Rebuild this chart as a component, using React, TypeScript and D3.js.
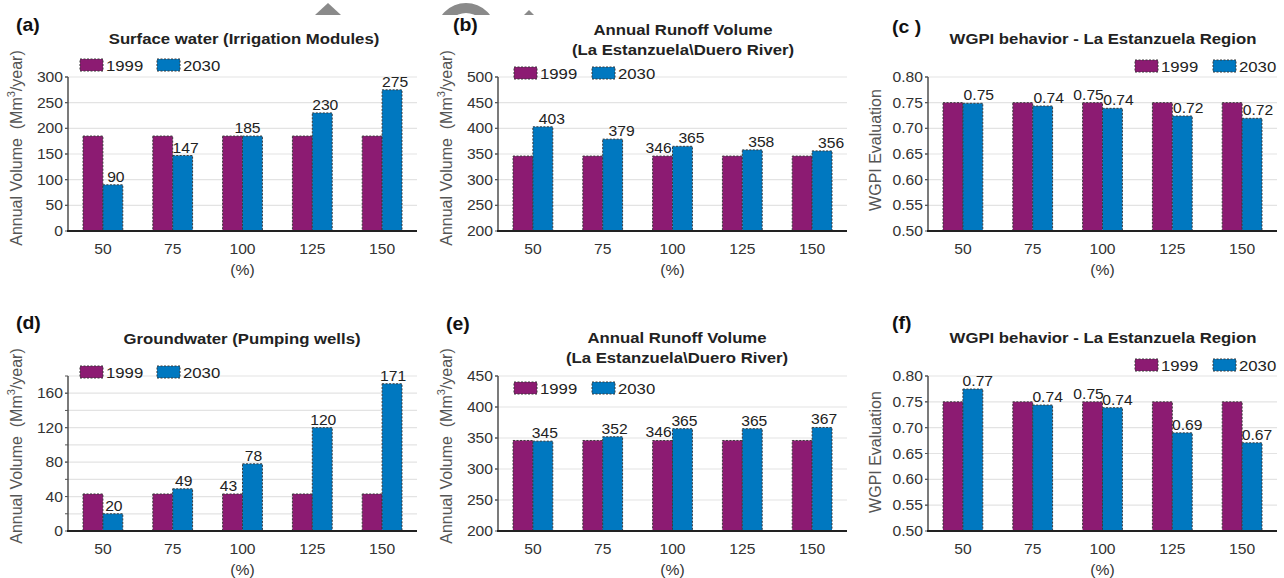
import React from "react";
import * as d3 from "d3";

const categories = ["50", "75", "100", "125", "150"];
const seriesNames = ["1999", "2030"];

const surface1999 = [185, 185, 185, 185, 185];
const surface2030 = [90, 147, 185, 230, 275];
const runoffB1999 = [346, 346, 346, 346, 346];
const runoffB2030 = [403, 379, 365, 358, 356];
const wgpiC1999 = [0.75, 0.75, 0.75, 0.75, 0.75];
const wgpiC2030 = [0.7488, 0.7435, 0.739, 0.724, 0.7195];
const ground1999 = [43, 43, 43, 43, 43];
const ground2030 = [20, 49, 78, 120, 171];
const runoffE1999 = [346, 346, 346, 346, 346];
const runoffE2030 = [345, 352, 365, 365, 367];
const wgpiF1999 = [0.75, 0.75, 0.75, 0.75, 0.75];
const wgpiF2030 = [0.7748, 0.7438, 0.7386, 0.69, 0.6707];

const ticksA = [0, 50, 100, 150, 200, 250, 300];
const ticksB = [200, 250, 300, 350, 400, 450, 500];
const ticksWGPI = [0.5, 0.55, 0.6, 0.65, 0.7, 0.75, 0.8];
const ticksD = [0, 40, 80, 120, 160];
const gridD = [20, 40, 60, 80, 100, 120, 140, 160, 180];
const ticksE = [200, 250, 300, 350, 400, 450];

const titleA = ["Surface water (Irrigation Modules)"];
const titleRunoff = ["Annual Runoff Volume", "(La Estanzuela\\Duero River)"];
const titleWGPI = ["WGPI behavior - La Estanzuela Region"];
const titleD = ["Groundwater (Pumping wells)"];

const COLORS = ["#8C1B72", "#0078C0"];
const FONT = "'Liberation Sans', Arial, Helvetica, sans-serif";
const SX = 1.08;

function T(props: {
  x: number;
  y: number;
  size: number;
  anchor?: "start" | "middle" | "end";
  bold?: boolean;
  fill?: string;
  children: React.ReactNode;
}) {
  return (
    <text
      transform={`translate(${props.x},${props.y}) scale(${SX},1)`}
      textAnchor={props.anchor || "start"}
      fontSize={props.size}
      fontWeight={props.bold ? "bold" : "normal"}
      fill={props.fill || "#222"}
    >
      {props.children}
    </text>
  );
}

type PanelCfg = {
  letter: string;
  letterX: number;
  letterY: number;
  title: string[];
  titleX: number;
  titleY: number;
  axisX: number;
  right: number;
  top: number;
  bottom: number;
  domain: [number, number];
  ticks: number[];
  grid: number[];
  fmt: (v: number) => string;
  s1999: number[];
  s2030: number[];
  label1999: number[];
  labelFmt: (v: number) => string;
  shift: number;
  mergeEqual: boolean;
  legendX: number;
  legendY: number;
  legendGap: number;
  yTitle: "vol" | "wgpi";
  yTitleX: number;
  yTitleY: number;
};

function Panel({ c }: { c: PanelCfg }) {
  const y = d3.scaleLinear().domain(c.domain).range([c.bottom, c.top]);
  const x = d3
    .scaleBand<string>()
    .domain(categories)
    .range([c.axisX, c.right])
    .paddingInner(0.43)
    .paddingOuter(0.215);
  const xs = d3.scaleBand<string>().domain(seriesNames).range([0, x.bandwidth()]);
  const series = [c.s1999, c.s2030];
  const y0 = c.domain[0];
  return (
    <g fontFamily={FONT}>
      {c.grid.map((t) => (
        <line key={"g" + t} x1={c.axisX} x2={c.right} y1={y(t)} y2={y(t)} stroke="#e3e3e3" strokeWidth={1.2} />
      ))}
      {series.map((s, si) =>
        s.map((v, i) => {
          const bx = (x(categories[i]) as number) + (xs(seriesNames[si]) as number);
          return (
            <rect
              key={"b" + si + i}
              x={bx}
              y={y(v)}
              width={xs.bandwidth()}
              height={y(y0) - y(v)}
              fill={COLORS[si]}
              stroke="#3a3a3a"
              strokeWidth={1}
              strokeDasharray="2,1.5"
            />
          );
        })
      )}
      {c.s2030.map((v, i) => {
        const same = c.mergeEqual && c.s1999[i] === v;
        const cx = same
          ? (x(categories[i]) as number) + x.bandwidth() / 2 + 5
          : (x(categories[i]) as number) + (xs("2030") as number) + xs.bandwidth() / 2 + c.shift;
        return (
          <T key={"l2" + i} x={cx} y={y(v) - 3} anchor="middle" size={14.5}>
            {c.labelFmt(v)}
          </T>
        );
      })}
      {c.label1999.map((i) => {
        const v = c.s1999[i];
        const cx = (x(categories[i]) as number) + (xs("1999") as number) + xs.bandwidth() / 2 - 4;
        return (
          <T key={"l1" + i} x={cx} y={y(v) - 3} anchor="middle" size={14.5}>
            {c.labelFmt(v)}
          </T>
        );
      })}
      <line x1={c.axisX} x2={c.axisX} y1={c.top} y2={c.bottom} stroke="#333" strokeWidth={1.3} />
      {c.grid.concat(c.ticks).map((t, k) => (
        <line key={"t" + k} x1={c.axisX - 3} x2={c.axisX} y1={y(t)} y2={y(t)} stroke="#555" strokeWidth={1} />
      ))}
      {c.ticks.map((t) => (
        <T key={"tl" + t} x={c.axisX - 5} y={y(t) + 5} anchor="end" size={14.5} fill="#333">
          {c.fmt(t)}
        </T>
      ))}
      <line x1={c.axisX - 1} x2={c.right} y1={c.bottom} y2={c.bottom} stroke="#222" strokeWidth={2} />
      {categories.map((cat) => (
        <T key={"x" + cat} x={(x(cat) as number) + x.bandwidth() / 2} y={c.bottom + 23} anchor="middle" size={14.5} fill="#333">
          {cat}
        </T>
      ))}
      <T x={(x("100") as number) + x.bandwidth() / 2} y={c.bottom + 44} anchor="middle" size={14.5} fill="#333">
        (%)
      </T>
      <text
        transform={`translate(${c.yTitleX},${c.yTitleY}) rotate(-90)`}
        textAnchor="middle"
        fontSize={16}
        fill="#555"
        dominantBaseline="middle"
      >
        {c.yTitle === "vol" ? (
          <>
            Annual Volume{"\u00a0\u00a0"}(Mm<tspan dy={-6} fontSize={11}>3</tspan>
            <tspan dy={6}>/year)</tspan>
          </>
        ) : (
          "WGPI Evaluation"
        )}
      </text>
      {c.title.map((t, k) => (
        <T key={"ti" + k} x={c.titleX} y={c.titleY + k * 20} anchor="middle" size={15.5} bold>
          {t}
        </T>
      ))}
      <T x={c.letterX} y={c.letterY} size={18} bold fill="#111">
        {c.letter}
      </T>
      {seriesNames.map((n, si) => (
        <g key={"lg" + n} transform={`translate(${c.legendX + si * c.legendGap},${c.legendY})`}>
          <rect x={0} y={-6} width={23} height={12} fill={COLORS[si]} stroke="#3a3a3a" strokeWidth={1} strokeDasharray="2,1.5" />
          <T x={26} y={6} size={15.5}>
            {n}
          </T>
        </g>
      ))}
    </g>
  );
}

const f0 = (v: number) => d3.format("d")(v);
const f2 = (v: number) => d3.format(".2f")(v);

const panels: PanelCfg[] = [
  {
    letter: "(a)", letterX: 16, letterY: 31, title: titleA, titleX: 244, titleY: 44,
    axisX: 68, right: 417, top: 77, bottom: 231, domain: [0, 300], ticks: ticksA, grid: ticksA.slice(1),
    fmt: f0, s1999: surface1999, s2030: surface2030, label1999: [], labelFmt: f0, shift: 3, mergeEqual: true,
    legendX: 80, legendY: 65, legendGap: 77, yTitle: "vol", yTitleX: 18, yTitleY: 148,
  },
  {
    letter: "(b)", letterX: 453, letterY: 31, title: titleRunoff, titleX: 683, titleY: 35,
    axisX: 498, right: 847, top: 77, bottom: 231, domain: [200, 500], ticks: ticksB, grid: ticksB.slice(1),
    fmt: f0, s1999: runoffB1999, s2030: runoffB2030, label1999: [2], labelFmt: f0, shift: 9, mergeEqual: false,
    legendX: 514, legendY: 73, legendGap: 78, yTitle: "vol", yTitleX: 448, yTitleY: 148,
  },
  {
    letter: "(c )", letterX: 892, letterY: 33, title: titleWGPI, titleX: 1103, titleY: 44,
    axisX: 928, right: 1277, top: 77, bottom: 231, domain: [0.5, 0.8], ticks: ticksWGPI, grid: ticksWGPI.slice(1),
    fmt: f2, s1999: wgpiC1999, s2030: wgpiC2030, label1999: [2], labelFmt: f2, shift: 6, mergeEqual: false,
    legendX: 1135, legendY: 66, legendGap: 78, yTitle: "wgpi", yTitleX: 877, yTitleY: 150,
  },
  {
    letter: "(d)", letterX: 16, letterY: 329, title: titleD, titleX: 242, titleY: 344,
    axisX: 68, right: 417, top: 376, bottom: 531, domain: [0, 180], ticks: ticksD, grid: gridD,
    fmt: f0, s1999: ground1999, s2030: ground2030, label1999: [2], labelFmt: f0, shift: 1, mergeEqual: false,
    legendX: 80, legendY: 372, legendGap: 77, yTitle: "vol", yTitleX: 18, yTitleY: 446,
  },
  {
    letter: "(e)", letterX: 446, letterY: 330, title: titleRunoff, titleX: 677, titleY: 343,
    axisX: 498, right: 847, top: 376, bottom: 531, domain: [200, 450], ticks: ticksE, grid: ticksE.slice(1),
    fmt: f0, s1999: runoffE1999, s2030: runoffE2030, label1999: [2], labelFmt: f0, shift: 2, mergeEqual: false,
    legendX: 514, legendY: 388, legendGap: 78, yTitle: "vol", yTitleX: 448, yTitleY: 446,
  },
  {
    letter: "(f)", letterX: 892, letterY: 329, title: titleWGPI, titleX: 1103, titleY: 343,
    axisX: 928, right: 1277, top: 376, bottom: 531, domain: [0.5, 0.8], ticks: ticksWGPI, grid: ticksWGPI.slice(1),
    fmt: f2, s1999: wgpiF1999, s2030: wgpiF2030, label1999: [2], labelFmt: f2, shift: 5, mergeEqual: false,
    legendX: 1135, legendY: 365, legendGap: 78, yTitle: "wgpi", yTitleX: 877, yTitleY: 452,
  },
];

export default function App() {
  const ring = d3.arc()({ innerRadius: 20, outerRadius: 30, startAngle: -Math.PI / 2, endAngle: Math.PI / 2 }) as string;
  return (
    <svg
      width={1284}
      height={578}
      style={{ position: "absolute", left: 0, top: 0, background: "#fff" }}
      xmlns="http://www.w3.org/2000/svg"
    >
      <rect width={1284} height={578} fill="#fff" />
      <defs>
        <clipPath id="wm">
          <rect x={0} y={0} width={1284} height={15} />
        </clipPath>
      </defs>
      <g clipPath="url(#wm)" fill="#8a8a8a">
        <path d="M315,15 L328,3 L341,15 Z" />
        <path d={ring} transform="translate(466,33)" />
        <path d="M524,15 L529,10 L534,15 Z" />
      </g>
      {panels.map((p) => (
        <Panel key={p.letter} c={p} />
      ))}
    </svg>
  );
}
